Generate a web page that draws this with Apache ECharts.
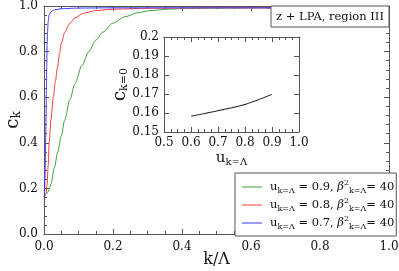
<!DOCTYPE html>
<html><head><meta charset="utf-8">
<script src="https://cdn.jsdelivr.net/npm/echarts@6/dist/echarts.min.js"></script>
<style>html,body{margin:0;padding:0;background:#fff}#c{width:399px;height:271px}</style>
</head><body><div id="c"></div>
<script>
// Main panel: c_k vs k/Lambda
const kGreen = [0,0.005,0.01,0.015,0.02,0.03,0.04,0.05,0.06,0.075,0.09,0.11,0.13,0.15,0.17,0.2,0.235,0.27,0.31,0.36,0.42,0.5,0.65,0.8,1.0];
const cGreen = [0.170,0.173,0.181,0.196,0.22,0.29,0.36,0.43,0.50,0.59,0.66,0.74,0.80,0.85,0.885,0.925,0.953,0.97,0.98,0.986,0.99,0.991,0.992,0.992,0.992];
const kRed = [0,0.003,0.006,0.009,0.012,0.015,0.02,0.027,0.033,0.039,0.045,0.051,0.06,0.075,0.09,0.114,0.15,0.2,0.3,0.5,1.0];
const cRed = [0.1645,0.168,0.18,0.22,0.3,0.4,0.5,0.6,0.67,0.73,0.79,0.84,0.885,0.924,0.948,0.968,0.98,0.986,0.99,0.992,0.992];
const kBlue = [0,0.001,0.002,0.003,0.004,0.005,0.006,0.007,0.008,0.009,0.01,0.012,0.015,0.02,0.03,0.05,0.1,0.2,1.0];
const cBlue = [0.161,0.17,0.2,0.26,0.34,0.42,0.52,0.63,0.74,0.83,0.88,0.93,0.962,0.975,0.983,0.988,0.991,0.992,0.992];
// Inset: c_{k=0} vs u_{k=Lambda}
const uInset = [0.6,0.7,0.8,0.9];
const cInset = [0.1583,0.1612,0.1645,0.1698];
// Tick settings
const mainXTicks = {min:0,max:1,interval:0.2};
const mainYTicks = {min:0,max:1,interval:0.2};
const insetXTicks = {min:0.5,max:1.0,interval:0.1};
const insetYTicks = {min:0.15,max:0.2,interval:0.01};
const seriesNames = ['u09','u08','u07'];

const FONT = 'DejaVu Serif';
const frame = '#555';
const zip = (a,b)=>a.map((v,i)=>[v,b[i]]);

const rich = {
  b:{fontFamily:FONT,fontSize:11.5,lineHeight:16,verticalAlign:'middle',color:'#111'},
  s:{fontFamily:FONT,fontSize:8,lineHeight:9,verticalAlign:'bottom',color:'#111'},
  g:{fontFamily:FONT,fontSize:11.5,fontStyle:'italic',lineHeight:16,verticalAlign:'middle',color:'#111'},
  p:{fontFamily:FONT,fontSize:8,lineHeight:9,verticalAlign:'top',color:'#111'}
};
const legendText = {
  u09:'{b|u}{s|k=Λ}{b| = 0.9, }{g|β}{p|2}{s|k=Λ}{b|= 40}',
  u08:'{b|u}{s|k=Λ}{b| = 0.8, }{g|β}{p|2}{s|k=Λ}{b|= 40}',
  u07:'{b|u}{s|k=Λ}{b| = 0.7, }{g|β}{p|2}{s|k=Λ}{b|= 40}'
};

function xAx(grid, t, pos, labels, minorSplit){
  return Object.assign({type:'value',gridIndex:grid,position:pos,nameMoveOverlap:false,
    axisLine:{show:true,onZero:false,lineStyle:{color:frame,width:1}},
    axisTick:{show:true,inside:true,length:5,lineStyle:{color:frame}},
    minorTick:{show:minorSplit>0,splitNumber:minorSplit||1,length:3,lineStyle:{color:frame}},
    splitLine:{show:false},
    axisLabel:{show:labels,fontFamily:FONT,fontSize:12,color:'#111',margin:7}
  },t);
}

const chart = echarts.init(document.getElementById('c'),null,{renderer:'canvas'});
const colors = ['#3fa33f','#ff3b3b','#3b3bff'];
chart.setOption({
  animation:false,
  backgroundColor:'#fff',
  grid:[
    {left:44,top:6,right:10,bottom:37,containLabel:false,outerBoundsMode:'none'},
    {left:164,top:37,right:100,bottom:139,containLabel:false,outerBoundsMode:'none'}
  ],
  xAxis:[
    Object.assign(xAx(0,mainXTicks,'bottom',true,4),{name:'k/Λ',nameLocation:'middle',nameGap:18,
      nameTextStyle:{fontFamily:FONT,fontSize:16,color:'#111'},
      axisLabel:{fontFamily:FONT,fontSize:12,color:'#111',margin:7,formatter:v=>v.toFixed(1)}}),
    xAx(0,mainXTicks,'top',false,4),
    Object.assign(xAx(1,insetXTicks,'bottom',true,4),{name:'{b|u}{s|k=Λ}',nameLocation:'middle',nameGap:17,
      nameTextStyle:{rich:{b:{fontFamily:FONT,fontSize:15,lineHeight:18,verticalAlign:'middle',color:'#111'},
                           s:{fontFamily:FONT,fontSize:10,lineHeight:11,verticalAlign:'bottom',color:'#111'}}},
      axisLabel:{fontFamily:FONT,fontSize:12,color:'#111',margin:5,formatter:v=>v.toFixed(1)}}),
    xAx(1,insetXTicks,'top',false,4)
  ],
  yAxis:[
    Object.assign(xAx(0,mainYTicks,'left',true,5),{name:'{b|c}{s|k}',nameLocation:'middle',nameGap:21,
      nameTextStyle:{rich:{b:{fontFamily:FONT,fontSize:18,lineHeight:20,verticalAlign:'middle',color:'#111'},
                           s:{fontFamily:FONT,fontSize:12,lineHeight:12,verticalAlign:'bottom',color:'#111'}}},
      axisLabel:{fontFamily:FONT,fontSize:12,color:'#111',margin:6,formatter:v=>v.toFixed(1)}}),
    xAx(0,mainYTicks,'right',false,5),
    Object.assign(xAx(1,insetYTicks,'left',true,0),{name:'{b|c}{s|k=0}',nameLocation:'middle',nameGap:34,
      nameTextStyle:{rich:{b:{fontFamily:FONT,fontSize:18,lineHeight:20,verticalAlign:'middle',color:'#111'},
                           s:{fontFamily:FONT,fontSize:11,lineHeight:12,verticalAlign:'bottom',color:'#111'}}},
      axisLabel:{fontFamily:FONT,fontSize:12,color:'#111',margin:5,formatter:v=>String(+v.toFixed(2))}}),
    xAx(1,insetYTicks,'right',false,0)
  ],
  legend:{
    orient:'vertical',left:235,top:173,
    data:seriesNames,
    icon:'rect',itemWidth:20,itemHeight:1,itemGap:2,
    padding:[6,2,5,7],
    backgroundColor:'#fff',borderColor:frame,borderWidth:1,borderRadius:0,
    formatter:n=>legendText[n],
    textStyle:{rich:rich,width:118,padding:[0,0,0,3]}
  },
  graphic:[
    {type:'rect',z:100,shape:{x:271,y:6,width:118,height:21},style:{fill:'#fff',stroke:frame,lineWidth:1}},
    {type:'text',z:101,x:330,y:17,style:{text:'z + LPA, region III',fontFamily:FONT,fontSize:11.5,fill:'#111',align:'center',verticalAlign:'middle'}}
  ],
  series:[
    {name:'u09',type:'line',xAxisIndex:0,yAxisIndex:0,data:zip(kGreen,cGreen),showSymbol:false,symbol:'none',smooth:0.3,smoothMonotone:'x',lineStyle:{width:1,color:colors[0]},itemStyle:{color:colors[0]}},
    {name:'u08',type:'line',xAxisIndex:0,yAxisIndex:0,data:zip(kRed,cRed),showSymbol:false,symbol:'none',smooth:0.3,smoothMonotone:'x',lineStyle:{width:1,color:colors[1]},itemStyle:{color:colors[1]}},
    {name:'u07',type:'line',xAxisIndex:0,yAxisIndex:0,data:zip(kBlue,cBlue),showSymbol:false,symbol:'none',smooth:0.3,smoothMonotone:'x',lineStyle:{width:1,color:colors[2]},itemStyle:{color:colors[2]}},
    {name:'inset',type:'line',xAxisIndex:2,yAxisIndex:2,data:zip(uInset,cInset),showSymbol:false,symbol:'none',smooth:0.3,lineStyle:{width:1,color:'#111'}}
  ]
});
</script></body></html>
